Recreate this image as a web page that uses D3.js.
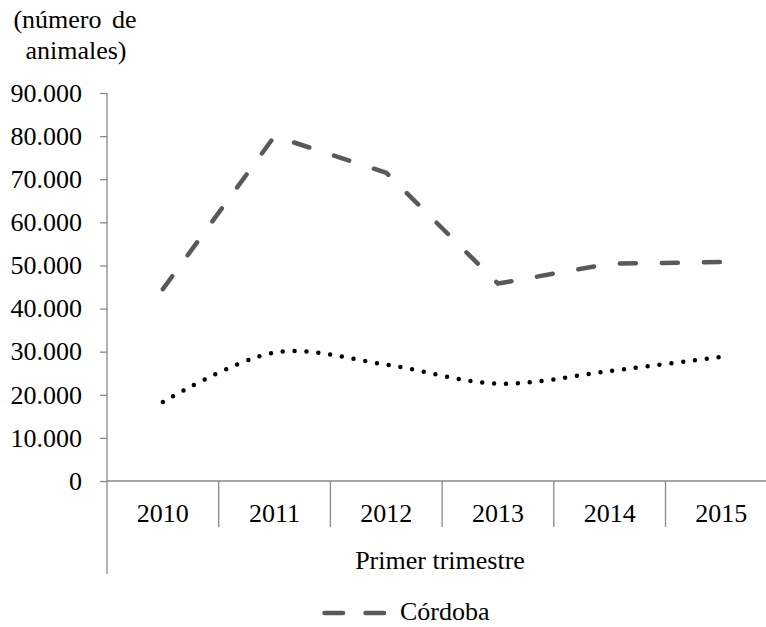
<!DOCTYPE html>
<meta charset="utf-8">
<script src="https://cdn.jsdelivr.net/npm/d3@7"></script>
<style>
  body{margin: 0; background: #fff;}
  svg text{font-family: "Times New Roman", "Liberation Serif", Tinos, "DejaVu Serif", serif;}
</style>
<div id="vis"></div>

<script>
const years = ["2010", "2011", "2012", "2013", "2014", "2015"]
const cordoba = [44500, 80000, 71500, 45800, 50400, 50800]
const otra = [18300, 29800, 27000, 22600, 25500, 28800]
const yTicks = [0, 10000, 20000, 30000, 40000, 50000, 60000, 70000, 80000, 90000]

function drawvis(){
  const width = 766, height = 627
  const axisColor = "#898989"
  const fs = 26
  const ff = '"Times New Roman", "Liberation Serif", Tinos, "DejaVu Serif", serif'

  const svg = d3.select("#vis").append("svg")
      .attr("width", width)
      .attr("height", height)
      .attr("font-family", ff)

  const x = d3.scaleBand().domain(years).range([107, 107 + 6 * 111.7])
  const y = d3.scaleLinear().domain([0, 90000]).range([481, 93])

  const locale = d3.formatLocale({decimal: ",", thousands: ".", grouping: [3], currency: ["", ""]})
  const fmt = locale.format(",")

  // y axis label
  svg.append("text").attr("x", 75).attr("y", 28).attr("text-anchor", "middle")
    .style("font-size", fs + "px").style("word-spacing", "4px").text("(número de")
  svg.append("text").attr("x", 76).attr("y", 59).attr("text-anchor", "middle")
    .style("font-size", fs + "px").text("animales)")

  // y axis
  const yAxis = svg.append("g")
      .attr("transform", "translate(107,0)")
      .call(d3.axisLeft(y).tickValues(yTicks).tickFormat(fmt).tickSize(7).tickPadding(18))
  yAxis.attr("font-family", ff).attr("font-size", fs)
  yAxis.select(".domain").remove()
  yAxis.selectAll("line").attr("stroke", axisColor).attr("stroke-width", 1.3)
  yAxis.selectAll("text").attr("fill", "#000")

  svg.append("line")
    .attr("x1", 107).attr("x2", 107).attr("y1", y(90000)).attr("y2", 574)
    .attr("stroke", axisColor).attr("stroke-width", 1.3)

  // x axis
  svg.append("line")
    .attr("x1", 107).attr("x2", x.range()[1]).attr("y1", y(0)).attr("y2", y(0))
    .attr("stroke", axisColor).attr("stroke-width", 1.3)
  svg.selectAll(".sep").data(years.slice(1))
    .enter().append("line")
    .attr("class", "sep")
    .attr("x1", d => x(d)).attr("x2", d => x(d))
    .attr("y1", y(0)).attr("y2", 527)
    .attr("stroke", axisColor).attr("stroke-width", 1.3)
  svg.selectAll(".xlab").data(years)
    .enter().append("text")
    .attr("class", "xlab")
    .attr("x", d => x(d) + x.bandwidth() / 2)
    .attr("y", 522)
    .attr("text-anchor", "middle")
    .style("font-size", fs + "px")
    .text(d => d)

  svg.append("text").attr("x", 440).attr("y", 569).attr("text-anchor", "middle")
    .style("font-size", fs + "px").text("Primer trimestre")

  // lines
  const cx = d => x(d) + x.bandwidth() / 2
  const dashed = d3.line().x((d, i) => cx(years[i])).y(d => y(d))
  const dotted = d3.line().x((d, i) => cx(years[i])).y(d => y(d)).curve(d3.curveCatmullRom)

  svg.append("path").datum(otra)
    .attr("d", dotted)
    .attr("fill", "none").attr("stroke", "#000").attr("stroke-width", 4.5)
    .attr("stroke-linecap", "round").attr("stroke-dasharray", "0,11.9")

  svg.append("path").datum(cordoba)
    .attr("d", dashed)
    .attr("fill", "none").attr("stroke", "#595959").attr("stroke-width", 4.5)
    .attr("stroke-linecap", "round").attr("stroke-dasharray", "16,26")

  // legend
  const lg = svg.append("g").attr("transform", "translate(322,613)")
  lg.append("line").attr("x1", 2.5).attr("x2", 64).attr("y1", 0).attr("y2", 0)
    .attr("stroke", "#595959").attr("stroke-width", 4.5)
    .attr("stroke-linecap", "round").attr("stroke-dasharray", "18.5,22.5")
  lg.append("text").attr("x", 78).attr("y", 7).style("font-size", fs + "px").text("Córdoba")
}
drawvis();
</script>
